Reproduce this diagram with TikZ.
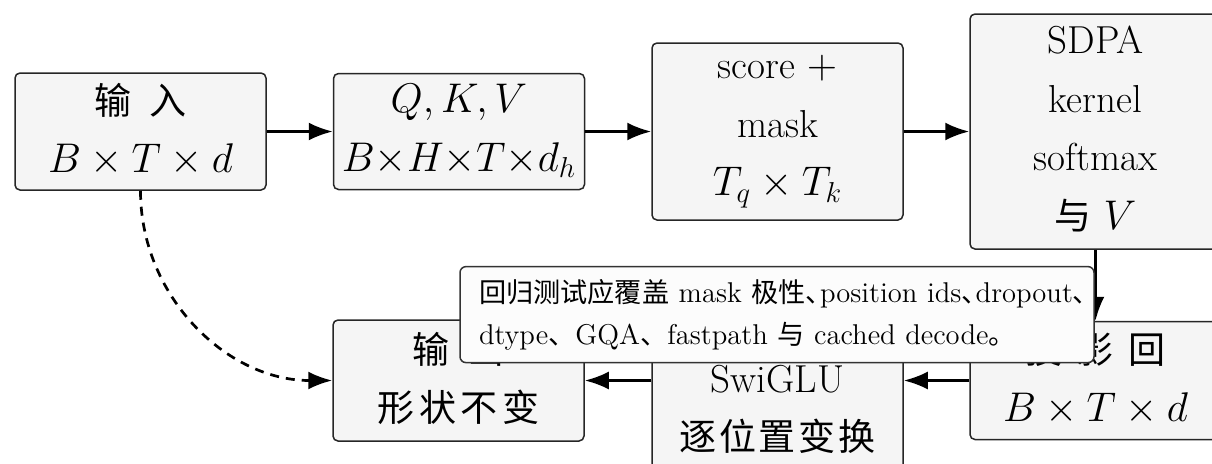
\documentclass[tikz,border=0pt]{standalone}
\usepackage{fontspec}
\newfontfamily\cjk{Noto Sans CJK SC}[Scale=0.95]
\usetikzlibrary{arrows.meta}
\newcommand\zh[1]{{\cjk #1}}
\newcommand\dun{\makebox[0.5em][l]{\cjk 、}}
\newcommand\tstrut{\rule{0pt}{25.5pt}}
\newcommand\bstrut{\rule[-3.75pt]{0pt}{0pt}}
\begin{document}
\begin{tikzpicture}[x=0.5pt,y=-0.5pt,
  box/.style={draw=black!85, line width=0.75pt, fill=black!4, rounded corners=2.5pt,
    minimum width=125.5pt, inner xsep=2pt, inner ysep=0.5pt, align=center,
    font=\fontsize{19.5}{29.25}\selectfont,
    execute at begin node=\tstrut, execute at end node=\bstrut},
  symbox/.style={box, execute at begin node=\strut, execute at end node=\strut},
  arr/.style={line width=1.35pt, -{Latex[length=12pt,width=9pt]}},
  dasharr/.style={arr, dash pattern=on 4.5pt off 3.5pt},
  notebox/.style={draw=black!80, line width=0.75pt, fill=black!1, rounded corners=3pt,
    align=left, text width=317pt, inner xsep=0pt,
    font=\fontsize{14.3}{21}\selectfont,
    minimum height=48pt}]
\useasboundingbox (0,0) rectangle (1212,463);
% top row
\node[box, minimum height=58.5pt] (in) at (140.5,131.5)
  {\zh{输}\hspace{0.46em}\zh{入}\\$B\times T\times d$};
\node[box, minimum height=58pt] (qkv) at (459,131.5)
  {$Q,K,V$\\$B{\times}H{\times}T{\times}d_h$};
\node[box, minimum height=88.5pt] (score) at (777.5,131.5)
  {score $+$\\mask\\$T_q\times T_k$};
\node[box, minimum height=117.5pt] (sdpa) at (1095.5,131.5)
  {SDPA\\kernel\\softmax\\\zh{与} $V$};
% bottom row
\node[box, minimum height=59pt] (proj) at (1095.5,380.5)
  {\zh{投}\hspace{0.38em}\zh{影}\hspace{0.38em}\zh{回}\\$B\times T\times d$};
\node[symbox, minimum height=88.5pt] (swi) at (777.5,380.5)
  {\strut\\SwiGLU\\\zh{逐}\hspace{0.07em}\zh{位}\hspace{0.07em}\zh{置}\hspace{0.07em}\zh{变}\hspace{0.07em}\zh{换}};
\node[box, minimum height=60.5pt] (out) at (458.5,380.5)
  {\zh{输}\hspace{0.46em}\zh{出}\\\zh{形}\hspace{0.12em}\zh{状}\hspace{0.12em}\zh{不}\hspace{0.12em}\zh{变}};
% connectors
\draw[arr] (in) -- (qkv);
\draw[arr] (qkv) -- (score);
\draw[arr] (score) -- (sdpa);
\draw[arr] (sdpa) -- (proj);
\draw[arr] (proj) -- (swi);
\draw[arr] (swi) -- (out);
\draw[dasharr] (in.south) to[out=-90,in=180] (out.west);
% note
\node[notebox] (note) at (777,314.6)
  {\mbox{\hspace*{9.5pt}\zh{回归测试应覆盖} mask \zh{极性}\dun position ids\dun dropout\zh{、}}\\
   \mbox{\hspace*{9.5pt}dtype\zh{、}GQA\zh{、}fastpath \zh{与} cached decode\zh{。}}};
\end{tikzpicture}
\end{document}
